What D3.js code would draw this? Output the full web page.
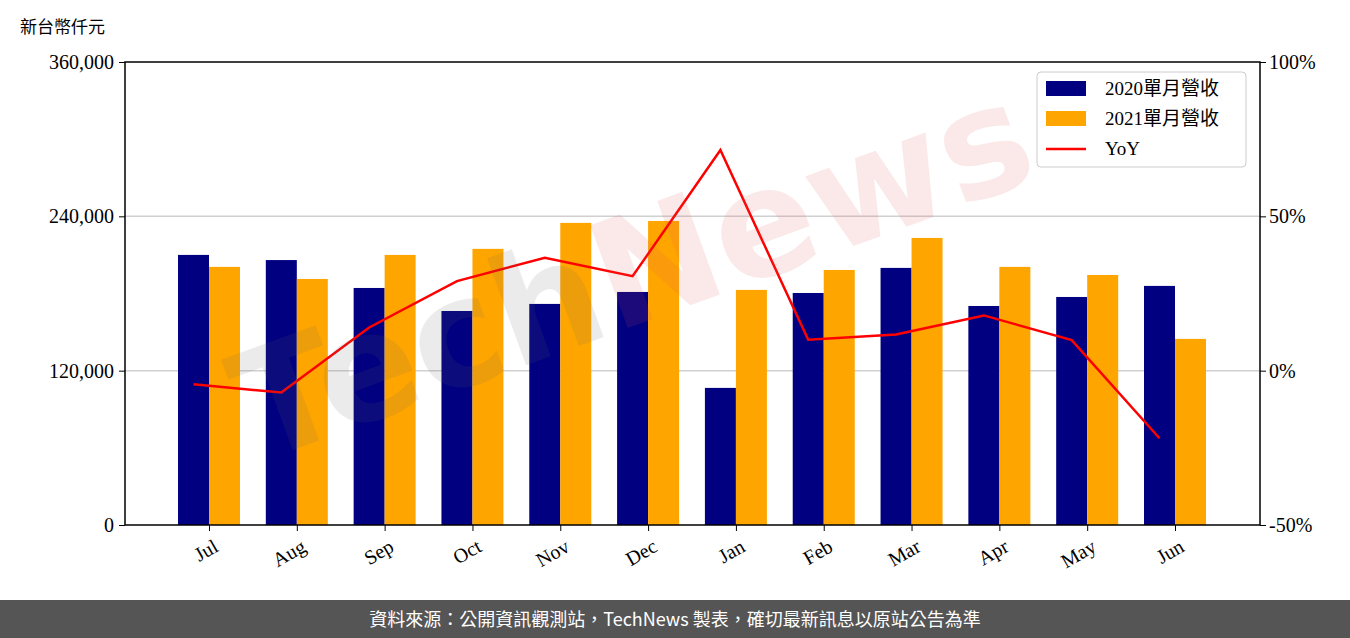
<!DOCTYPE html>
<html><head><meta charset="utf-8">
<script src="https://cdn.jsdelivr.net/npm/d3@7"></script>
<style>body{margin:0;background:#fff}svg{display:block}</style>
</head><body><svg id="c" width="1350" height="638"></svg>
<script>
const months = ["Jul","Aug","Sep","Oct","Nov","Dec","Jan","Feb","Mar","Apr","May","Jun"];
const rev2020 = [210000,206000,184300,166400,171900,181200,106600,180400,199900,170300,177300,185900];
const rev2021 = [200700,191300,210000,214700,234900,236400,182800,198300,223200,200700,194400,144700];
const yoy = [-4.4,-7.1,14.0,29.0,36.6,30.6,71.5,10.0,11.7,17.9,9.9,-21.9];
const leftTicks = [0,120000,240000,360000];
const rightTicks = [-50,0,50,100];
const legendLabels = ["2020單月營收","2021單月營收","YoY"];

const svg = d3.select("#c");
const L=125,R=1260,T=62,B=525;
const serif = "'Liberation Serif','DejaVu Serif',serif";
const cjk = "'Noto Sans CJK TC','Noto Sans CJK SC',sans-serif";
const x = d3.scaleLinear().domain([0,11]).range([209,1175]);
const y = d3.scaleLinear().domain([0,360000]).range([B,T]);
const y2 = d3.scaleLinear().domain([-50,100]).range([B,T]);
const bw = 31;

svg.selectAll(".g").data([120000,240000]).join("line")
  .attr("x1",L).attr("x2",R).attr("y1",d=>y(d)).attr("y2",d=>y(d))
  .attr("stroke","#d0d0d0").attr("stroke-width",1.5);

svg.selectAll(".b1").data(rev2020).join("rect")
  .attr("x",(d,i)=>x(i)-bw).attr("width",bw).attr("y",d=>y(d)).attr("height",d=>B-y(d)).attr("fill","#000080");
svg.selectAll(".b2").data(rev2021).join("rect")
  .attr("x",(d,i)=>x(i)).attr("width",bw).attr("y",d=>y(d)).attr("height",d=>B-y(d)).attr("fill","#ffa500");

svg.append("path").datum(yoy).attr("fill","none").attr("stroke","#ff0000").attr("stroke-width",2.5)
  .attr("d",d3.line().x((d,i)=>x(i)-bw/2).y(d=>y2(d)));

const wm = svg.append("text").attr("transform","translate(650,320) rotate(-20)")
  .attr("text-anchor","middle").attr("font-family","'DejaVu Sans',sans-serif")
  .attr("font-weight","bold").attr("font-size",150).attr("opacity",0.12);
wm.append("tspan").attr("fill","#666").text("Tech");
wm.append("tspan").attr("fill","#e05050").text("News");

svg.append("rect").attr("x",L).attr("y",T).attr("width",R-L).attr("height",B-T)
  .attr("fill","none").attr("stroke","#000").attr("stroke-width",1.5);

const la = svg.append("g").attr("transform",`translate(${L},0)`)
  .call(d3.axisLeft(y).tickValues(leftTicks).tickFormat(d3.format(",")).tickSizeOuter(0).tickSize(6));
const ra = svg.append("g").attr("transform",`translate(${R},0)`)
  .call(d3.axisRight(y2).tickValues(rightTicks).tickFormat(d=>d+"%").tickSizeOuter(0).tickSize(6));
const ba = svg.append("g").attr("transform",`translate(0,${B})`)
  .call(d3.axisBottom(x).tickValues(d3.range(12)).tickFormat(i=>months[i]).tickSizeOuter(0).tickSize(6));
[la,ra,ba].forEach(a=>{a.select(".domain").remove();a.selectAll("text").attr("font-family",serif).attr("font-size",20).attr("fill","#000");a.selectAll("line").attr("stroke","#000");});
la.selectAll("text").attr("dx",-2);
ba.selectAll("text").attr("text-anchor","end").attr("transform","rotate(-30)").attr("dx","-4").attr("dy","0.9em");

svg.append("text").attr("x",20).attr("y",33).attr("font-family",cjk).attr("font-size",17).text("新台幣仟元");

const lg = svg.append("g").attr("transform","translate(1037,72)");
lg.append("rect").attr("width",209).attr("height",95).attr("rx",4).attr("fill","#fff").attr("fill-opacity",0.8).attr("stroke","#ccc");
lg.append("rect").attr("x",9).attr("y",9).attr("width",40).attr("height",15).attr("fill","#000080");
lg.append("rect").attr("x",9).attr("y",39).attr("width",40).attr("height",15).attr("fill","#ffa500");
lg.append("line").attr("x1",9).attr("x2",49).attr("y1",77).attr("y2",77).attr("stroke","#f00").attr("stroke-width",2.5);
legendLabels.forEach((t,i)=>lg.append("text").attr("x",68).attr("y",23+i*30).attr("font-family",serif+","+cjk).attr("font-size",19).text(t));

svg.append("rect").attr("x",0).attr("y",600).attr("width",1350).attr("height",38).attr("fill","#555");
svg.append("text").attr("x",675).attr("y",626).attr("text-anchor","middle").attr("fill","#fff")
  .attr("font-family",cjk).attr("font-size",18).text("資料來源：公開資訊觀測站，TechNews 製表，確切最新訊息以原站公告為準");
</script></body></html>
